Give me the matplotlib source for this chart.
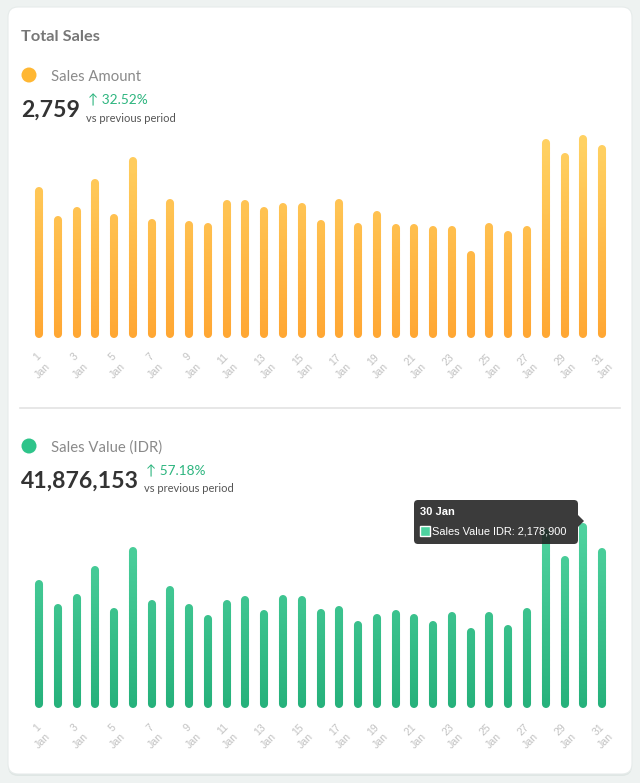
import matplotlib
matplotlib.use("Agg")
import matplotlib.pyplot as plt
import numpy as np
from matplotlib.collections import LineCollection
from matplotlib.colors import LinearSegmentedColormap
from matplotlib.patches import FancyBboxPatch, Circle, Polygon, Rectangle
from matplotlib.transforms import ScaledTranslation

# data
days = list(range(1, 32))
sales_amount = [100, 80, 86, 106, 81, 121, 78, 92, 76, 75, 91, 91, 86, 89, 89, 77,
                92, 75, 83, 74, 74, 73, 73, 55, 75, 69, 73, 134, 124, 137, 130]
sales_value = [1473000, 1178000, 1309000, 1653000, 1129000, 1887000, 1227000, 1400000,
               1178000, 1046000, 1227000, 1284000, 1112000, 1293000, 1277000, 1120000,
               1161000, 972000, 1055000, 1112000, 1062000, 972000, 1087000, 890000,
               1080000, 923000, 1129000, 2105000, 1776000, 2178900, 1867000]
tick_days = days[::2]
tick_labels = [f"{d}\nJan" for d in tick_days]

W, H = 640, 783
fig = plt.figure(figsize=(W / 100, H / 100), dpi=100)
fig.patch.set_facecolor("#eef2f1")

# background layer in pixel coords
bg = fig.add_axes([0, 0, 1, 1], zorder=0)
bg.set_xlim(0, W)
bg.set_ylim(H, 0)
bg.axis("off")
bg.add_patch(FancyBboxPatch((8, 9), 624, 767, boxstyle="round,pad=0,rounding_size=10",
                            fc="#dfe6e4", ec="none"))
bg.add_patch(FancyBboxPatch((8, 7), 624, 767, boxstyle="round,pad=0,rounding_size=10",
                            fc="white", ec="#e6ebea", lw=0.8))
bg.plot([20, 620], [408, 408], color="#e3e3e3", lw=1.2)

fam = ["Lato", "DejaVu Sans"]
bg.text(21, 37, "Total Sales", fontsize=11.8, fontweight="bold", color="#777777",
        family=fam, va="center")


def header(y0, name, color, total, pct, xpct):
    bg.add_patch(Circle((29, y0), 7.5, fc=color, ec="none"))
    bg.text(51, y0 + 2, name, fontsize=10.7, color="#8a8a8a", family=fam, va="center")
    bg.text(21, y0 + 35, total, fontsize=16.6, fontweight="bold", color="#333333",
            family=fam, va="center")
    bg.text(xpct, y0 + 25, "\u2191 " + pct, fontsize=9.8, color="#2db57f", family=fam,
            va="center")
    bg.text(xpct - 2, y0 + 43, "vs previous period", fontsize=8, color="#555555",
            family=fam, va="center")


header(75, "Sales Amount", "#ffb733", "2,759", "32.52%", 88)
header(446, "Sales Value (IDR)", "#2ec48a", "41,876,153", "57.18%", 146)


def bar_chart(rect, vals, c_bot, c_top, ymax):
    ax = fig.add_axes(rect, zorder=2)
    ax.patch.set_alpha(0)
    cmap = LinearSegmentedColormap.from_list("g", [c_bot, c_top])
    segs, cols = [], []
    for d, v in zip(days, vals):
        edges = np.linspace(0, v, 40)
        for a, b in zip(edges[:-1], edges[1:]):
            segs.append([(d, a), (d, b)])
            cols.append(cmap(((a + b) / 2) / ymax))
    lc = LineCollection(segs, colors=cols, linewidths=5.8, capstyle="round")
    lc.set_clip_on(False)
    ax.add_collection(lc)
    ax.set_xlim(0.4, 31.6)
    ax.set_ylim(0, ymax)
    for s in ax.spines.values():
        s.set_visible(False)
    ax.set_yticks([])
    ax.set_xticks(tick_days)
    ax.set_xticklabels(tick_labels, rotation=45, ha="right", rotation_mode="anchor",
                       fontsize=7.6, color="#c2c2c2", family="Liberation Sans",
                       multialignment="right", linespacing=1.45)
    ax.tick_params(axis="x", length=0, pad=13)
    shift = ScaledTranslation(-3 / 100, 0, fig.dpi_scale_trans)
    for lab in ax.get_xticklabels():
        lab.set_transform(lab.get_transform() + shift)
    return ax


left = 27.7 / W
width = 585.6 / W
hgt = 204.5 / H
bar_chart([left, (H - 333.5) / H, width, hgt], sales_amount, "#ffa733", "#ffd465", 204.5 / 1.4225)
bar_chart([left, (H - 704) / H, width, hgt], sales_value, "#26b17b", "#55d7a4", 204.5 * 12310)

# tooltip overlay
ov = fig.add_axes([0, 0, 1, 1], zorder=5)
ov.set_xlim(0, W)
ov.set_ylim(H, 0)
ov.axis("off")
ov.add_patch(FancyBboxPatch((414, 500), 164, 44, boxstyle="round,pad=0,rounding_size=4",
                            fc="#1e1e1e", ec="none", alpha=0.87))
ov.add_patch(Polygon([(578, 515), (584, 521), (578, 527)], closed=True, fc="#1e1e1e",
                     ec="none", alpha=0.87))
ov.text(420, 512, "30 Jan", fontsize=8, fontweight="bold", color="white",
        family="Liberation Sans", va="center")
ov.add_patch(Rectangle((420, 526), 10, 10, fc="#4dd3a0", ec="white", lw=1))
ov.text(432, 532, "Sales Value IDR: 2,178,900", fontsize=7.9, color="white",
        family="Liberation Sans", va="center")

fig.savefig("out.png", dpi=100)
